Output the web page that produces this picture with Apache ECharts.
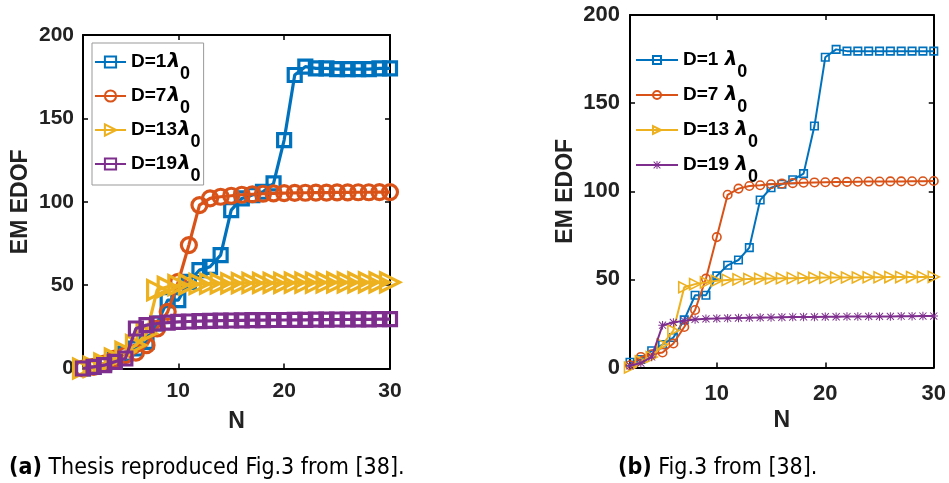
<!DOCTYPE html>
<html>
<head>
<meta charset="utf-8">
<script src="https://cdn.jsdelivr.net/npm/echarts@6/dist/echarts.min.js"></script>
<style>
html,body{margin:0;padding:0;background:#fff;}
#c{width:949px;height:483px;}
</style>
</head>
<body>
<div id="c"></div>
<script>
// ---------- data ----------
const leftN = [1,2,3,4,5,6,7,8,9,10,11,12,13,14,15,16,17,18,19,20,21,22,23,24,25,26,27,28,29,30];
const leftD1  = [0,1,3,5,9,12,16,27,41,41,52,59,61,68,95,102,104,106,111,137,176,181,180,180,179.5,179.5,179.5,179.5,180,180];
const leftD7  = [0,1,3,6,8,9.5,14,24,34,52,74,98,102,103,103.6,104.2,104.5,104.8,105,105.2,105.3,105.4,105.5,105.5,105.6,105.6,105.7,105.7,105.8,105.8];
const leftD13 = [0,1,3,6,10,14,21,47,49,50,50.5,50.7,50.9,51,51.1,51.2,51.3,51.3,51.4,51.4,51.5,51.5,51.5,51.6,51.6,51.6,51.6,51.7,51.7,51.7];
const leftD19 = [0,1,2,4,6,24,26,27,27.5,28,28.2,28.4,28.6,28.7,28.8,28.9,29,29,29.1,29.1,29.2,29.2,29.3,29.3,29.4,29.4,29.5,29.5,29.6,29.6];

const rightN = [2,3,4,5,6,7,8,9,10,11,12,13,14,15,16,17,18,19,20,21,22,23,24,25,26,27,28,29,30];
const rightD1  = [3,4.5,9.5,13,17,27,41,41,52,58,61,68,95,102,104,106.5,110,137,176,180.5,179.5,179.5,179.5,179.5,179.5,179.5,179.5,179.5,179.5];
const rightD7  = [1.3,6,7.5,8.5,13.6,23,32.6,50.4,74,98,101.5,103,103.4,104,104.3,104.6,104.8,105,105.1,105.2,105.3,105.4,105.5,105.5,105.6,105.6,105.7,105.7,105.8];
const rightD13 = [0,3.5,6,13,21,45.5,47.3,48.3,49.2,49.7,50,50.2,50.4,50.5,50.6,50.7,50.8,50.9,51,51,51.1,51.1,51.2,51.2,51.3,51.3,51.3,51.4,51.4];
const rightD19 = [1,2.5,6,24,25.6,26.5,27.3,27.6,27.8,28,28.1,28.2,28.3,28.4,28.5,28.6,28.7,28.7,28.8,28.8,28.9,28.9,29,29,29,29.1,29.1,29.2,29.2];

const xTicks = [10,20,30];
const yTicks = [0,50,100,150,200];
const legendLabels = ['1','7','13','19'];
const captionA = 'Thesis reproduced Fig.3 from [38].';
const captionB = 'Fig.3 from [38].';
const axisTitleY = 'EM EDOF';
const axisTitleX = 'N';

// ---------- styling ----------
const COLORS = ['#0072BD','#D95319','#EDB120','#7E2F8E'];
const FONT = '"Liberation Sans", Arial, sans-serif';
const CAPFONT = '"Liberation Sans Narrow", "DejaVu Sans Condensed", sans-serif';
const asterisk = 'path://M4.4,0h1.2v10h-1.2z M0,4.4h10v1.2h-10z M1.2,0.4l8.4,8.4l-0.8,0.8l-8.4-8.4z M8.8,0.4l0.8,0.8l-8.4,8.4l-0.8-0.8z';

function zip(xs, ys){ return xs.map((x,i)=>[x, ys[i]]); }

const leftSym = [
  {symbol:'rect', size:13},
  {symbol:'circle', size:15},
  {symbol:'triangle', size:19, rotate:-90},
  {symbol:'rect', size:13}
];
const rightSym = [
  {symbol:'rect', size:7.5},
  {symbol:'circle', size:8.5},
  {symbol:'triangle', size:11, rotate:-90},
  {symbol:asterisk, size:8.5, filled:true}
];

const series = [];
[leftD1,leftD7,leftD13,leftD19].forEach((arr,i)=>{
  const s = leftSym[i];
  series.push({
    name:'a'+legendLabels[i], type:'line', xAxisIndex:0, yAxisIndex:0,
    data: zip(leftN, arr), symbol:s.symbol, symbolSize:s.size, symbolRotate:s.rotate||0,
    showAllSymbol:true, clip:false, animation:false,
    lineStyle:{color:COLORS[i], width:3.2},
    itemStyle:{color:'rgba(255,255,255,0)', borderColor:COLORS[i], borderWidth:3.2},
    z: 2+i
  });
});
[rightD1,rightD7,rightD13,rightD19].forEach((arr,i)=>{
  const s = rightSym[i];
  series.push({
    name:'b'+legendLabels[i], type:'line', xAxisIndex:2, yAxisIndex:2,
    data: zip(rightN, arr), symbol:s.symbol, symbolSize:s.size, symbolRotate:s.rotate||0,
    showAllSymbol:true, clip:false, animation:false,
    lineStyle:{color:COLORS[i], width:2},
    itemStyle: s.filled ? {color:COLORS[i], borderWidth:0}
                        : {color:'rgba(255,255,255,0)', borderColor:COLORS[i], borderWidth:1.6},
    z: 2+i
  });
});

function xAxisMain(grid, min, name, nameGap, labelMargin, fs){
  return {
    gridIndex:grid, type:'value', min:min, max:30, position:'bottom',
    axisLine:{show:true, onZero:false, lineStyle:{color:'#000', width:2}},
    axisTick:{show:true, inside:true, length:5, customValues:xTicks, lineStyle:{color:'#000', width:1.5}},
    axisLabel:{customValues:xTicks, color:'#222', fontSize:fs, fontWeight:'bold', fontFamily:FONT, margin:labelMargin},
    splitLine:{show:false},
    name:name, nameLocation:'middle', nameGap:nameGap,
    nameTextStyle:{color:'#222', fontSize:23, fontWeight:'bold', fontFamily:FONT}
  };
}
function xAxisMirror(grid, min){
  return {
    gridIndex:grid, type:'value', min:min, max:30, position:'top',
    axisLine:{show:true, onZero:false, lineStyle:{color:'#000', width:2}},
    axisTick:{show:true, inside:true, length:5, customValues:xTicks, lineStyle:{color:'#000', width:1.5}},
    axisLabel:{show:false}, splitLine:{show:false}
  };
}
function yAxisMain(grid, nameGap, labelMargin, fs){
  return {
    gridIndex:grid, type:'value', min:0, max:200, interval:50, position:'left',
    axisLine:{show:true, onZero:false, lineStyle:{color:'#000', width:2}},
    axisTick:{show:true, inside:true, length:5, lineStyle:{color:'#000', width:1.5}},
    axisLabel:{color:'#222', fontSize:fs, fontWeight:'bold', fontFamily:FONT, margin:labelMargin},
    splitLine:{show:false},
    name:axisTitleY, nameLocation:'middle', nameGap:nameGap,
    nameTextStyle:{color:'#222', fontSize:23, fontWeight:'bold', fontFamily:FONT}
  };
}
function yAxisMirror(grid){
  return {
    gridIndex:grid, type:'value', min:0, max:200, interval:50, position:'right',
    axisLine:{show:true, onZero:false, lineStyle:{color:'#000', width:2}},
    axisTick:{show:true, inside:true, length:5, lineStyle:{color:'#000', width:1.5}},
    axisLabel:{show:false}, splitLine:{show:false}
  };
}

function legendFormatter(name){
  const k = name.slice(1);
  const gap = name[0] === 'b' ? ' ' : '';
  return '{t|D=' + k + gap + '}{l|λ}{s|0}';
}
function legendRich(fs){
  return {
    t:{fontSize:fs, fontWeight:'bold', fontFamily:FONT, color:'#000', verticalAlign:'middle'},
    l:{fontSize:fs+1, fontWeight:'bold', fontStyle:'italic', fontFamily:'"DejaVu Sans", sans-serif', color:'#000', verticalAlign:'middle', padding:[0,0,0,1]},
    s:{fontSize:fs-1, fontWeight:'bold', fontFamily:FONT, color:'#000', verticalAlign:'middle', padding:[24,0,0,0]}
  };
}

const option = {
  backgroundColor:'#fff',
  animation:false,
  grid:[
    {left:83, top:35, width:307, height:333.5, show:false},
    {left:630, top:15, width:305, height:352.5, show:false}
  ],
  xAxis:[
    xAxisMain(0, 1, axisTitleX, 42, 12, 21),
    xAxisMirror(0, 1),
    xAxisMain(1, 2, axisTitleX, 42, 15, 22),
    xAxisMirror(1, 2)
  ],
  yAxis:[
    yAxisMain(0, 51, 9, 21),
    yAxisMirror(0),
    yAxisMain(1, 53, 10, 22),
    yAxisMirror(1)
  ],
  legend:[
    {
      data:['a1','a7','a13','a19'], orient:'vertical', left:92, top:43,
      itemWidth:31, itemHeight:14, itemGap:3,
      padding:[9,3,0,2], borderColor:'#999', borderWidth:1, backgroundColor:'#fff',
      formatter:legendFormatter, selectedMode:false,
      textStyle:{rich:legendRich(19)}
    },
    {
      data:['b1','b7','b13','b19'], orient:'vertical', left:635, top:50,
      itemWidth:42, itemHeight:10, itemGap:4,
      padding:0, formatter:legendFormatter, selectedMode:false,
      textStyle:{rich:legendRich(19)}
    }
  ],
  title:[
    {
      text:'{b|(a)} ' + captionA, left:4, top:452,
      textStyle:{fontSize:23, fontWeight:'normal', fontFamily:CAPFONT, color:'#000',
        rich:{b:{fontSize:23, fontWeight:'bold', fontFamily:CAPFONT, color:'#000'}}}
    },
    {
      text:'{b|(b)} ' + captionB, left:613, top:452,
      textStyle:{fontSize:23, fontWeight:'normal', fontFamily:CAPFONT, color:'#000',
        rich:{b:{fontSize:23, fontWeight:'bold', fontFamily:CAPFONT, color:'#000'}}}
    }
  ],
  series:series
};

const chart = echarts.init(document.getElementById('c'), null, {renderer:'canvas'});
chart.setOption(option);
</script>
</body>
</html>
